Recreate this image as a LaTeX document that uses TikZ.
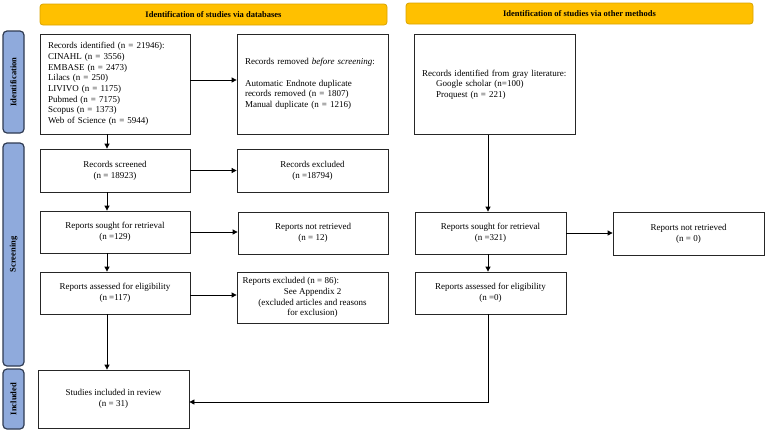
\documentclass[tikz,border=0pt]{standalone}
\usepackage{fontspec}
\setmainfont{Liberation Serif}
\usetikzlibrary{arrows.meta}
\definecolor{hdrfill}{HTML}{FFC000}
\definecolor{hdrborder}{HTML}{D9A300}
\definecolor{sidefill}{HTML}{8FAADC}
\definecolor{sideborder}{HTML}{2F3B52}
\begin{document}
\begin{tikzpicture}[x=1pt,y=-1pt,
  box/.style={draw=black!85, line width=0.8pt, fill=white, inner sep=0pt, align=center,
    font=\fontsize{9}{10.7}\selectfont},
  hdr/.style={draw=hdrborder, fill=hdrfill, rounded corners=3pt, line width=0.8pt,
    minimum width=347pt, minimum height=21pt, inner sep=0pt,
    font=\fontsize{8.5}{10}\selectfont\bfseries},
  side/.style={draw=sideborder, fill=sidefill, rounded corners=4pt, line width=1.2pt,
    rotate=90, minimum height=21pt, inner sep=0pt, font=\fontsize{8.5}{10}\selectfont\bfseries},
  arr/.style={-{Triangle[length=5pt,width=5pt]}, line width=0.8pt}]
\useasboundingbox (0,0) rectangle (767,432);

% headers
\node[hdr] (HL) at (213.5,14.5) {Identification of studies via databases};
\node[hdr] (HR) at (579.5,13.5) {Identification of studies via other methods};

% side bars
\node[side, minimum width=102pt] (S1) at (13.5,82) {Identification};
\node[side, minimum width=223pt] (S2) at (13.5,254.5) {Screening};
\node[side, minimum width=60pt] (S3) at (13.5,399) {Included};

% left column
\node[box, minimum width=150pt, minimum height=100pt, text width=134pt, align=left] (A) at (115,84)
 {Records identified (n = 21946):\\CINAHL (n = 3556)\\EMBASE (n = 2473)\\Lilacs (n = 250)\\LIVIVO (n = 1175)\\Pubmed (n = 7175)\\Scopus (n = 1373)\\Web of Science (n = 5944)};
\node[box, minimum width=151pt, minimum height=100pt, text width=135pt, align=left] (B) at (312.5,84)
 {Records removed \textit{before screening}:\\[10.7pt]Automatic Endnote duplicate\\records removed (n = 1807)\\Manual duplicate (n = 1216)};
\node[box, minimum width=150pt, minimum height=43pt] (C) at (115,170.5) {Records screened\\(n = 18923)};
\node[box, minimum width=151pt, minimum height=43pt] (D) at (312.5,170.5) {Records excluded\\(n =18794)};
\node[box, minimum width=150pt, minimum height=42pt] (E) at (115,232) {Reports sought for retrieval\\(n =129)};
\node[box, minimum width=150pt, minimum height=42pt] (F) at (313,233) {Reports not retrieved\\(n = 12)};
\node[box, minimum width=150pt, minimum height=42pt] (G) at (115,293) {Reports assessed for eligibility\\(n =117)};
\node[box, minimum width=151pt, minimum height=51pt] (H) at (312.5,297.5)
 {\parbox{140pt}{\fontsize{9}{10.7}\selectfont Reports excluded (n = 86):\par\centering See Appendix 2\\(excluded articles and reasons\\for exclusion)}};
\node[box, minimum width=151pt, minimum height=58pt] (I) at (113.5,399) {Studies included in review\\(n = 31)};

% right column
\node[box, minimum width=161pt, minimum height=100pt, text width=145pt, align=left] (J) at (494.5,84.5)
 {Records identified from gray literature:\\\hspace*{14pt}Google scholar (n=100)\\\hspace*{14pt}Proquest (n = 221)};
\node[box, minimum width=151pt, minimum height=42pt] (K) at (490.5,233) {Reports sought for retrieval\\(n =321)};
\node[box, minimum width=151pt, minimum height=43pt] (L) at (688.5,233.5) {Reports not retrieved\\(n = 0)};
\node[box, minimum width=151pt, minimum height=42pt] (M) at (490.5,293) {Reports assessed for eligibility\\(n =0)};

% arrows
\draw[arr] ([yshift=4pt]A.east) -- ([yshift=4pt]B.west);
\draw[arr] ([xshift=-8pt]A.south) coordinate (a1) -- (a1 |- C.north);
\draw[arr] (C.east) -- (D.west);
\draw[arr] ([xshift=-8pt]C.south) coordinate (c1) -- (c1 |- E.north);
\draw[arr] (E.east) -- (E.east -| F.west);
\draw[arr] ([xshift=-8pt]E.south) coordinate (e1) -- (e1 |- G.north);
\draw[arr] ([yshift=-2pt]G.east) coordinate (g2) -- (g2 -| H.west);
\draw[arr] ([xshift=-8pt]G.south) coordinate (g1) -- (g1 |- I.north);
\draw[arr] ([xshift=-6.5pt]J.south) coordinate (j1) -- (j1 |- K.north);
\draw[arr] (K.east) -- (K.east -| L.west);
\draw[arr] ([xshift=-2.5pt]K.south) coordinate (k1) -- (k1 |- M.north);
\draw[arr] ([xshift=-2.5pt]M.south) |- ([yshift=-3pt]I.east);
\end{tikzpicture}
\end{document}
